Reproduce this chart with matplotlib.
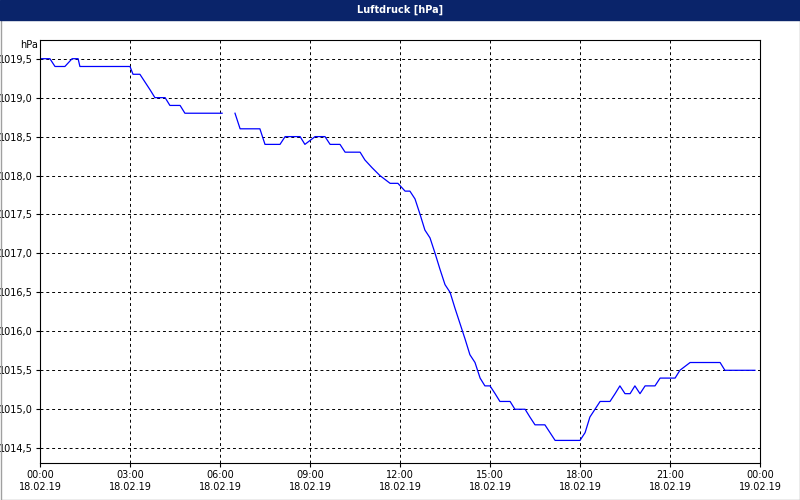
import matplotlib
matplotlib.use("Agg")
import matplotlib.pyplot as plt
import numpy as np

hours = [0, 0.33, 0.5, 0.83, 1.07, 1.27, 1.33, 3.0, 3.1, 3.33, 3.5, 3.67, 3.83, 4.17, 4.33, 4.67, 4.83, 6.07,
         6.2,
         6.5, 6.67, 7.33, 7.5, 8.0, 8.17, 8.67, 8.83, 9.17, 9.5, 9.67, 10.0, 10.17, 10.67, 10.83, 11.07, 11.33,
         11.67, 11.93, 12.17, 12.33, 12.5, 12.67, 12.83, 13.0, 13.17, 13.33, 13.5, 13.67, 13.83, 14.0, 14.17,
         14.33, 14.5, 14.67, 14.83, 15.0, 15.17, 15.33, 15.67, 15.83, 16.17, 16.33, 16.5, 16.83, 17.0, 17.17,
         18.0, 18.17, 18.33, 18.5, 18.67, 19.0, 19.17, 19.33, 19.5, 19.67, 19.83, 20.0, 20.17, 20.5, 20.67,
         21.17, 21.33, 21.67, 22.67, 22.83, 23.83]
pressure = [1019.5, 1019.5, 1019.4, 1019.4, 1019.5, 1019.5, 1019.4, 1019.4, 1019.3, 1019.3, 1019.2, 1019.1,
            1019.0, 1019.0, 1018.9, 1018.9, 1018.8, 1018.8,
            np.nan,
            1018.8, 1018.6, 1018.6, 1018.4, 1018.4, 1018.5, 1018.5, 1018.4, 1018.5, 1018.5, 1018.4, 1018.4,
            1018.3, 1018.3, 1018.2, 1018.1, 1018.0, 1017.9, 1017.9, 1017.8, 1017.8, 1017.7, 1017.5, 1017.3,
            1017.2, 1017.0, 1016.8, 1016.6, 1016.5, 1016.3, 1016.1, 1015.9, 1015.7, 1015.6, 1015.4, 1015.3,
            1015.3, 1015.2, 1015.1, 1015.1, 1015.0, 1015.0, 1014.9, 1014.8, 1014.8, 1014.7, 1014.6,
            1014.6, 1014.7, 1014.9, 1015.0, 1015.1, 1015.1, 1015.2, 1015.3, 1015.2, 1015.2, 1015.3, 1015.2,
            1015.3, 1015.3, 1015.4, 1015.4, 1015.5, 1015.6, 1015.6, 1015.5, 1015.5]
yticks = [1014.5, 1015.0, 1015.5, 1016.0, 1016.5, 1017.0, 1017.5, 1018.0, 1018.5, 1019.0, 1019.5]
xticks = [0, 3, 6, 9, 12, 15, 18, 21, 24]
xlabels = ["00:00\n18.02.19", "03:00\n18.02.19", "06:00\n18.02.19", "09:00\n18.02.19", "12:00\n18.02.19",
           "15:00\n18.02.19", "18:00\n18.02.19", "21:00\n18.02.19", "00:00\n19.02.19"]

fig = plt.figure(figsize=(8, 5), dpi=100)
fig.patch.set_facecolor("white")
fig.patches.append(plt.Rectangle((0.5/800, 0.5/500), 799/800, 499/500, transform=fig.transFigure,
                                 fill=False, edgecolor="#a0a0a0", lw=1, zorder=0))
fig.patches.append(plt.Rectangle((0, 480/500), 1, 20/500, transform=fig.transFigure, color="#0a246a", zorder=1))
fig.text(0.5, 490/500, "Luftdruck [hPa]", color="white", ha="center", va="center", fontsize=7, fontweight="bold")
ax = fig.add_axes([40/800, 37/500, 720/800, 423/500])
ax.plot(hours, pressure, color="#0000ff", lw=0.9)
ax.set_xlim(0, 24)
ax.set_ylim(1014.31, 1019.74)
ax.set_yticks(yticks)
ax.set_yticklabels([f"{v:.1f}".replace(".", ",") for v in yticks], fontsize=7)
ax.set_xticks(xticks)
ax.set_xticklabels(xlabels, fontsize=7)
ax.grid(True, color="black", ls=(0, (3, 3)), lw=0.7)
ax.tick_params(length=3, pad=2)
for s in ax.spines.values():
    s.set_linewidth(0.8)
fig.text(20/800, 455/500, "hPa", fontsize=7, va="center")
fig.savefig("out.png", dpi=100)
